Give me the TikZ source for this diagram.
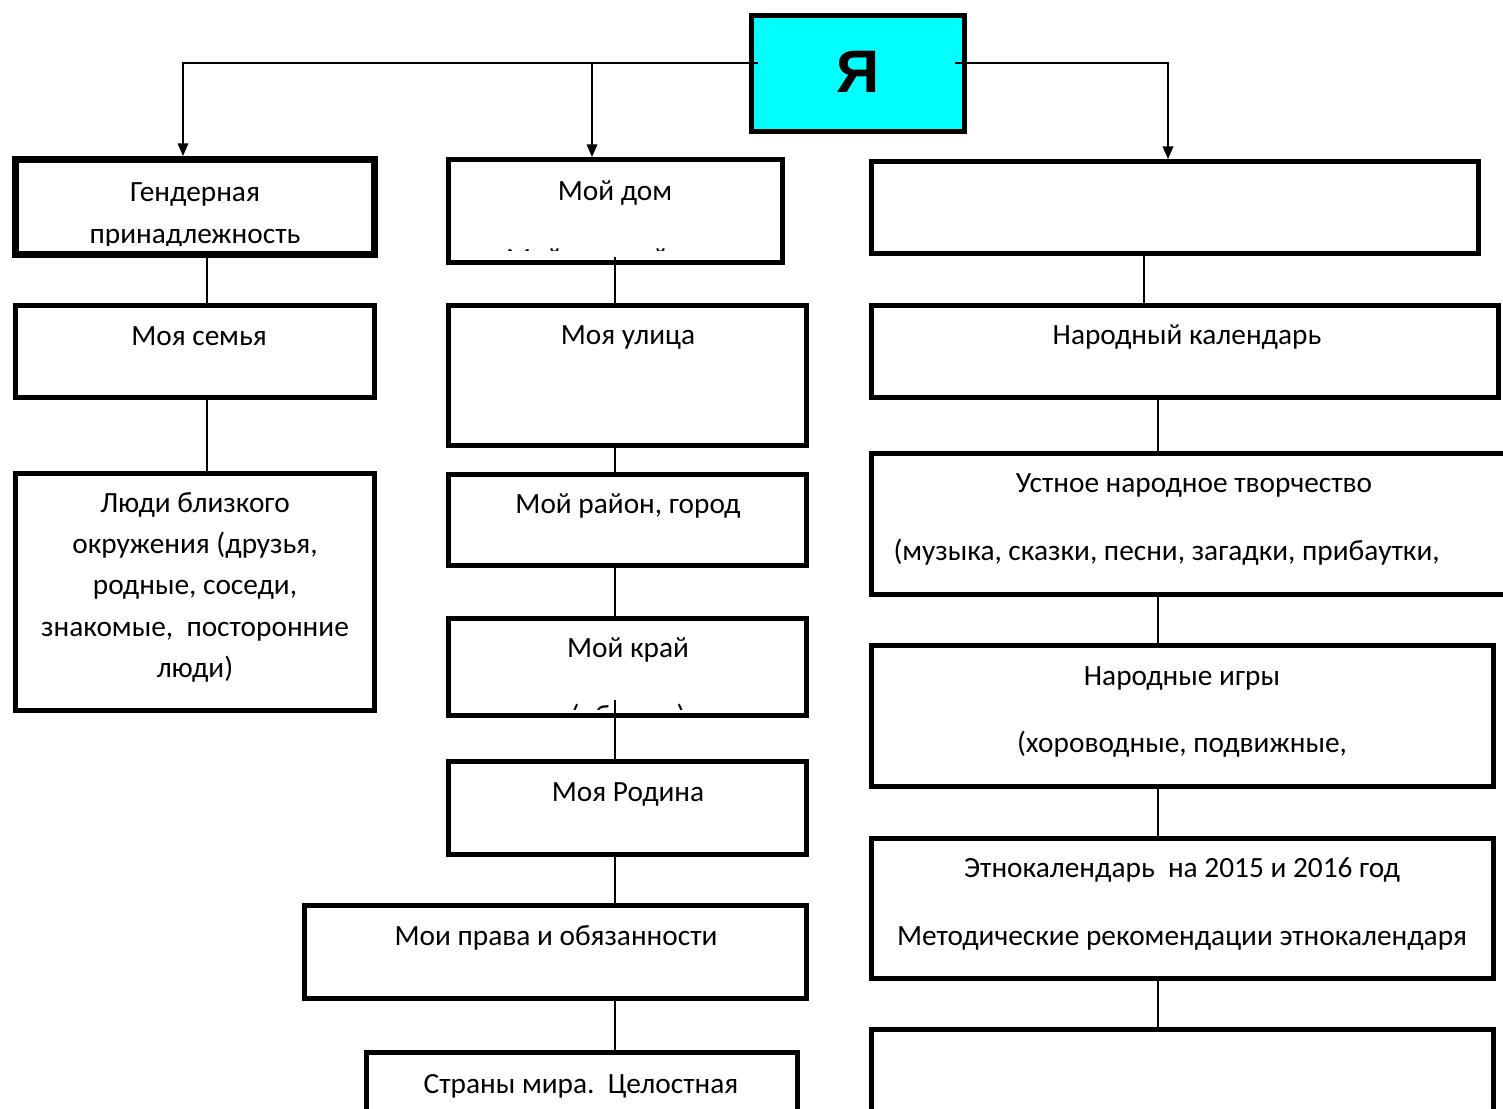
\documentclass[tikz,border=0pt]{standalone}
\usepackage{fontspec}
\setmainfont{Carlito}
\newfontfamily\yafont{Liberation Sans}
\usetikzlibrary{arrows.meta,fit,calc}
\definecolor{yacyan}{HTML}{00FFFF}
\tikzset{
  box/.style={draw=black, line width=3.75pt, inner sep=0pt, fill=white},
  thickbox/.style={box, line width=5.25pt},
  conn/.style={line width=1.2pt},
  arr/.style={conn, -{Triangle[width=8pt,length=9.5pt]}},
  txt/.style={anchor=base, inner sep=0pt, font=\fontsize{22}{26}\selectfont},
}
\begin{document}
\begin{tikzpicture}[x=0.75pt,y=-0.75pt]
\clip (0,0) rectangle (1503,1108);
\useasboundingbox (0,0) rectangle (1503,1108);
\fill[white] (0,0) rectangle (1503,1108);

% top box
\node[box, fill=yacyan, fit={(751.5,15.5)(964.5,131.5)}] (ya) {};
\node[anchor=base, inner sep=0pt, font=\yafont\bfseries\fontsize{45}{50}\selectfont] (yat) at (858,92) {Я};

% left column
\node[thickbox, fit={(15.5,159.5)(374.5,254.5)}] (gender) {};
\node[box, fit={(15.5,305.5)(374.5,397.5)}] (semya) {};
\node[box, fit={(15.5,473.5)(374.5,710.5)}] (lyudi) {};

% middle column
\node[box, fit={(448.5,159.5)(782.5,262.5)}] (dom) {};
\node[box, fit={(448.5,305.5)(806.5,445.5)}] (ulica) {};
\node[box, fit={(448.5,474.5)(806.5,565.5)}] (rayon) {};
\node[box, fit={(448.5,618.5)(806.5,715.5)}] (kray) {};
\node[box, fit={(448.5,761.5)(806.5,854.5)}] (rodina) {};
\node[box, fit={(304.5,905.5)(806.5,998.5)}] (prava) {};
\node[box, fit={(366.5,1052.5)(797.5,1130)}] (strany) {};

% right column
\node[box, fit={(871.5,161.5)(1478.5,253.5)}] (rtop) {};
\node[box, fit={(871.5,305.5)(1498.5,397.5)}] (nkal) {};
\node[box, fit={(871.5,453.5)(1520,594.5)}] (ustnoe) {};
\node[box, fit={(871.5,645.5)(1493.5,786.5)}] (igry) {};
\node[box, fit={(871.5,838.5)(1493.5,978.5)}] (etno) {};
\node[box, fit={(871.5,1029.5)(1493.5,1130)}] (rbot) {};

% connectors from Я
\draw[arr] ($(ya.west)+(9,-10.5)$) -| (183,0 |- gender.north);
\draw[arr] (592,63) -- (592,0 |- dom.north);
\draw[arr] ($(ya.east)+(-12,-10.5)$) -| (1168,0 |- rtop.north);

% vertical connectors
\draw[conn] (207,0 |- gender.south) -- (207,0 |- semya.north);
\draw[conn] (207,0 |- semya.south) -- (207,0 |- lyudi.north);
\draw[conn] (615,257) -- (615,0 |- ulica.north);
\draw[conn] (615,0 |- ulica.south) -- (615,0 |- rayon.north);
\draw[conn] (615,0 |- rayon.south) -- (615,0 |- kray.north);
\draw[conn] (615,700) -- (615,0 |- rodina.north);
\draw[conn] (615,0 |- rodina.south) -- (615,0 |- prava.north);
\draw[conn] (615,0 |- prava.south) -- (615,0 |- strany.north);
\draw[conn] (1144,0 |- rtop.south) -- (1144,0 |- nkal.north);
\draw[conn] (1158,0 |- nkal.south) -- (1158,0 |- ustnoe.north);
\draw[conn] (1158,0 |- ustnoe.south) -- (1158,0 |- igry.north);
\draw[conn] (1158,0 |- igry.south) -- (1158,0 |- etno.north);
\draw[conn] (1158,0 |- etno.south) -- (1158,0 |- rbot.north);

% texts left
\node[txt] (t1) at (195,201) {Гендерная};
\begin{scope}
\clip (19,160) rectangle (371,245);
\node[txt] (t2) at (195,243) {принадлежность};
\end{scope}
\node[txt] (t3) at (199,345) {Моя семья};
\node[txt] (t4a) at (195,512) {Люди близкого};
\node[txt] (t4b) at (195,553) {окружения (друзья,};
\node[txt] (t4c) at (195,594) {родные, соседи,};
\node[txt] (t4d) at (195,636) {знакомые,\ \ посторонние};
\node[txt] (t4e) at (195,677) {люди)};

% texts middle
\node[txt] (t5) at (615,200) {Мой дом};
\begin{scope}
\clip (451,162) rectangle (780,250);
\node[txt] (t5b) at (612,268) {Мой детский сад};
\end{scope}
\node[txt] (t6) at (628,344) {Моя улица};
\node[txt] (t7) at (628,513) {Мой район, город};
\node[txt] (t8) at (628,657) {Мой край};
\begin{scope}
\clip (451,620) rectangle (804,709);
\node[txt] (t8b) at (628,725) {(область)};
\end{scope}
\node[txt] (t9) at (628,801) {Моя Родина};
\node[txt] (t10) at (556,945) {Мои права и обязанности};
\node[txt] (t11) at (581,1093) {Страны мира.\ \ Целостная};

% texts right
\node[txt] (t12) at (1187,344) {Народный календарь};
\node[txt] (t13a) at (1194,492) {Устное народное творчество};
\node[txt] (t13b) at (1166.5,560) {(музыка, сказки, песни, загадки, прибаутки,};
\node[txt] (t14a) at (1182,685) {Народные игры};
\node[txt] (t14b) at (1182,752) {(хороводные, подвижные,};
\node[txt] (t15a) at (1182,877) {Этнокалендарь\ \ на 2015 и 2016 год};
\node[txt] (t15b) at (1182,945) {Методические рекомендации этнокалендаря};
\end{tikzpicture}
\end{document}
